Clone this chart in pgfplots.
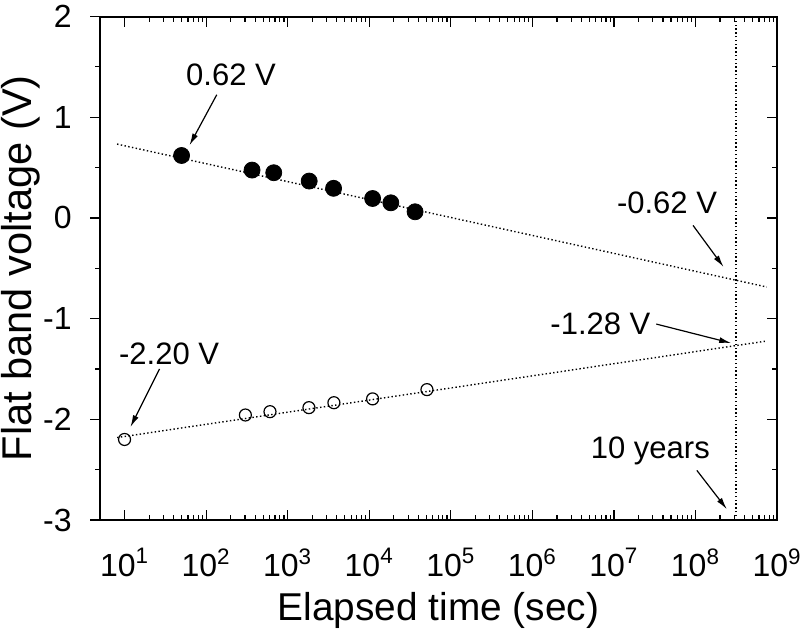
\documentclass[border=0pt]{standalone}
\usepackage{pgfplots}
\pgfplotsset{compat=1.18}
\usepackage{fontspec}
\setmainfont{Liberation Sans}
\usetikzlibrary{arrows.meta}
\tikzset{ann/.style={font=\fontsize{15.5}{17}\selectfont}, arr/.style={-{Latex[length=6pt,width=3pt]}, line width=0.6pt}}
\begin{document}
\begin{tikzpicture}
% main axis: data, x ticks inside on both sides, y ticks inside on right
\begin{axis}[scale only axis, width=338.5pt, height=251.75pt,
  xmode=log, xmin=5, xmax=1e9, ymin=-3, ymax=2,
  axis line style={line width=1pt},
  every tick/.style={line width=0.6pt, black},
  major tick length=5pt, minor tick length=2.5pt,
  clip=false,
  tick align=inside,
  xtick={10,100,1000,10000,100000,1000000,10000000,100000000,1000000000},
  xticklabels={10\textsuperscript{1},10\textsuperscript{2},10\textsuperscript{3},10\textsuperscript{4},10\textsuperscript{5},10\textsuperscript{6},10\textsuperscript{7},10\textsuperscript{8},10\textsuperscript{9}},
  xticklabel style={font=\fontsize{16}{18}\selectfont, inner sep=0pt, yshift=-14pt},
  ytick={-3,-2,-1,0,1,2}, minor ytick={-2.5,-1.5,-0.5,0.5,1.5},
  ytick pos=right, yticklabels={},
  every axis x label/.style={at={(rel axis cs:0.5,-0.18)},anchor=center,inner sep=0pt},
  xlabel={\fontsize{19.4}{21}\selectfont Elapsed time (sec)},
]
\path (rel axis cs:-0.1477,-0.2284) rectangle (rel axis cs:1.0369,1.0328);
% fit lines
\addplot[black, line width=0.7pt, dash pattern=on 0.7pt off 1.2pt] coordinates {(8.1,0.733) (7.5e8,-0.686)};
\addplot[black, line width=0.7pt, dash pattern=on 0.7pt off 1.2pt] coordinates {(8.1,-2.181) (7.1e8,-1.225)};
\addplot[black, line width=0.7pt, dash pattern=on 0.7pt off 1.2pt] coordinates {(3.15e8,-3) (3.15e8,2)};
% filled circles
\addplot[only marks, mark=*, mark size=4pt, black] coordinates {
(50,0.62) (366,0.475) (675,0.449) (1836,0.366) (3656,0.294) (11000,0.193) (18400,0.150) (36500,0.061)};
% open circles
\addplot[only marks, mark=o, mark size=3pt, black, line width=0.6pt] coordinates {
(10,-2.20) (303,-1.957) (607,-1.924) (1823,-1.884) (3690,-1.835) (11000,-1.797) (51000,-1.705)};
% annotations
\node[ann] at (axis cs:202,1.42) {0.62 V};
\draw[arr] (axis cs:135,1.223) -- (axis cs:62.5,0.721);
\node[ann] at (axis cs:4.48e7,0.153) {-0.62 V};
\draw[arr] (axis cs:9.33e7,-0.074) -- (axis cs:2.21e8,-0.487);
\node[ann] at (axis cs:6.84e6,-1.054) {-1.28 V};
\draw[arr] (axis cs:3.31e7,-1.054) -- (axis cs:2.74e8,-1.243);
\node[ann] at (axis cs:2.8e7,-2.312) {10 years};
\draw[arr] (axis cs:1.04e8,-2.507) -- (axis cs:2.43e8,-2.893);
\node[ann] at (axis cs:35.2,-1.351) {-2.20 V};
\draw[arr] (axis cs:26.8,-1.50) -- (axis cs:11.8,-2.077);
\end{axis}
% left y axis: ticks outside with labels
\begin{axis}[scale only axis, width=338.5pt, height=251.75pt,
  xmode=log, xmin=5, xmax=1e9, ymin=-3, ymax=2,
  axis line style={line width=1pt},
  every tick/.style={line width=0.6pt, black},
  major tick length=5pt, minor tick length=2.5pt,
  axis x line=none, axis y line*=left,
  tick align=outside,
  ytick={-3,-2,-1,0,1,2}, minor ytick={-2.5,-1.5,-0.5,0.5,1.5},
  yticklabels={-3,-2,-1,0,1,2},
  yticklabel style={font=\fontsize{16}{18}\selectfont, inner sep=0pt, xshift=-9pt},
  every axis y label/.style={at={(rel axis cs:-0.117,0.5)},rotate=90,anchor=center,inner sep=0pt},
  ylabel={\fontsize{20.8}{22}\selectfont Flat band voltage (V)},
]
\end{axis}
\end{tikzpicture}
\end{document}
